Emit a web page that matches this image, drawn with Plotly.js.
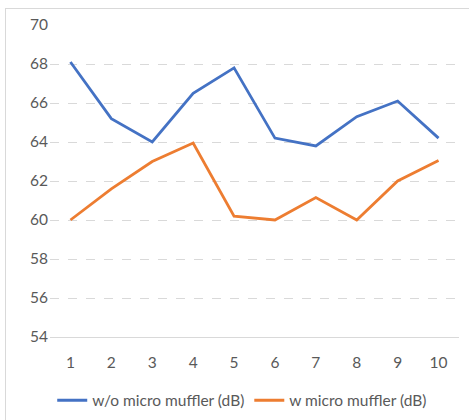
<!DOCTYPE html>
<html><head><meta charset="utf-8">
<script src="https://cdn.plot.ly/plotly-3.0.1.min.js"></script>
<style>
html,body{margin:0;padding:0;background:#fff;}
#wrap{position:relative;width:469px;height:420px;}
#chart{width:469px;height:420px;}
#frame{position:absolute;left:5px;top:8px;width:470px;height:420px;border-top:1px solid #d9d9d9;border-left:1px solid #d9d9d9;pointer-events:none;}
</style>
</head><body>
<div id="wrap"><div id="chart"></div><div id="frame"></div></div>
<script>
const categories = ['1','2','3','4','5','6','7','8','9','10'];
const seriesNames = ['w/o micro muffler (dB)', 'w micro muffler (dB)'];
const withoutMuffler = [68.1, 65.2, 64.0, 66.5, 67.8, 64.2, 63.8, 65.3, 66.1, 64.2];
const withMuffler = [60.0, 61.6, 63.0, 63.95, 60.2, 60.0, 61.15, 60.0, 62.0, 63.05];
const yTicks = [54, 56, 58, 60, 62, 64, 66, 68, 70];

const font = {family: 'Lato, "Open Sans", sans-serif', size: 15.5, color: '#595959'};
const legendFont = {family: 'Lato, "Open Sans", sans-serif', size: 15.5, color: '#595959'};
const traces = [
  {x: categories, y: withoutMuffler, name: seriesNames[0], type: 'scatter', mode: 'lines',
   line: {color: '#4472C4', width: 2.8}},
  {x: categories, y: withMuffler, name: seriesNames[1], type: 'scatter', mode: 'lines',
   line: {color: '#ED7D31', width: 2.8}}
];
const layout = {
  width: 469, height: 420,
  margin: {l: 49.5, r: 10, t: 25, b: 83},
  paper_bgcolor: '#fff', plot_bgcolor: '#fff',
  font: font,
  showlegend: true,
  legend: {orientation: 'h', x: 0.47, xanchor: 'center', yref: 'container', y: 0.046, yanchor: 'middle',
    font: legendFont, itemwidth: 30, tracegroupgap: 0},
  xaxis: {type: 'category', range: [-0.5, 9.5], showgrid: false, zeroline: false, automargin: false,
    showline: true, linecolor: '#d9d9d9', linewidth: 1, ticks: '', tickfont: font,
    ticklabelstandoff: 11, fixedrange: true},
  yaxis: {range: [54, 70], tickvals: yTicks, showgrid: true, gridcolor: '#d9d9d9', automargin: false,
    griddash: 'dash', gridwidth: 1, zeroline: false, showline: false, ticks: '',
    tickfont: font, ticklabelstandoff: 1, fixedrange: true}
};
Plotly.newPlot('chart', traces, layout, {displayModeBar: false, staticPlot: true});
</script>
</body></html>
